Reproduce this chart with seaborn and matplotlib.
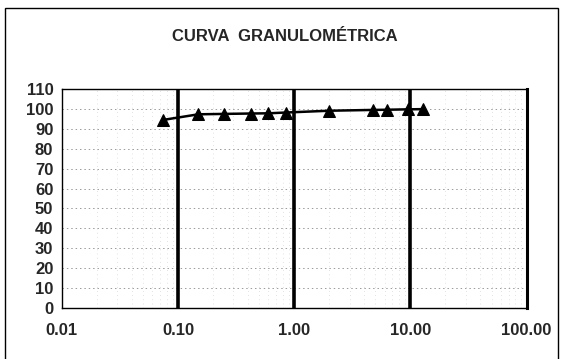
import matplotlib
matplotlib.use("Agg")
import matplotlib.pyplot as plt
from matplotlib.patches import Rectangle
from matplotlib.ticker import FixedLocator, FixedFormatter, LogLocator, NullFormatter
import seaborn as sns
import pandas as pd

# Sieve openings (mm) and cumulative percent passing
abertura_mm = [0.075, 0.15, 0.25, 0.425, 0.6, 0.85, 2.0, 4.75, 6.3, 9.5, 12.7]
pasa_pct = [94.6, 97.4, 97.6, 97.8, 97.9, 98.3, 99.2, 99.6, 99.7, 99.9, 100.0]

x_ticks = [0.01, 0.1, 1, 10, 100]
x_labels = ["0.01", "0.10", "1.00", "10.00", "100.00"]
y_ticks = list(range(0, 111, 10))

titulo = "CURVA  GRANULOMÉTRICA"

sns.set_style("white")
plt.rcParams["font.family"] = ["Liberation Sans", "DejaVu Sans"]
plt.rcParams["font.weight"] = "bold"

df = pd.DataFrame({"abertura": abertura_mm, "pasa": pasa_pct})

fig = plt.figure(figsize=(5.63, 3.59), dpi=100)
ax = fig.add_axes([0.1096, 0.1429, 0.8259, 0.6084])

sns.lineplot(data=df, x="abertura", y="pasa", ax=ax, color="black",
             linewidth=1.8, marker="^", markersize=8, markeredgecolor="black",
             markerfacecolor="black", zorder=5)

ax.set_xscale("log")
ax.set_xlim(0.01, 100)
ax.set_ylim(0, 110)
ax.xaxis.set_major_locator(FixedLocator(x_ticks))
ax.xaxis.set_major_formatter(FixedFormatter(x_labels))
ax.xaxis.set_minor_locator(LogLocator(base=10, subs=range(2, 10)))
ax.xaxis.set_minor_formatter(NullFormatter())
ax.set_yticks(y_ticks)
ax.set_xlabel("")
ax.set_ylabel("")

# Decade lines drawn heavy, percent lines faint and dotted
for xv in x_ticks[1:-1]:
    ax.axvline(xv, color="black", linewidth=2.6, zorder=3)
for yv in y_ticks[1:-1]:
    ax.axhline(yv, color="#9a9a9a", linewidth=0.7, linestyle=(0, (1.5, 3)), zorder=1)
ax.grid(which="minor", axis="x", color="#c8c8c8", linewidth=0.5,
        linestyle=(0, (1, 5)), zorder=1)

for side in ["left", "bottom", "top"]:
    ax.spines[side].set_visible(True)
    ax.spines[side].set_color("black")
    ax.spines[side].set_linewidth(1.0)
ax.spines["right"].set_visible(True)
ax.spines["right"].set_color("black")
ax.spines["right"].set_linewidth(2.2)

ax.tick_params(axis="both", which="major", direction="out", length=4,
               width=0.8, color="black", labelsize=12, pad=2)
ax.tick_params(axis="x", which="major", pad=7)
ax.tick_params(axis="x", which="minor", length=0)
for lbl in ax.get_xticklabels() + ax.get_yticklabels():
    lbl.set_fontweight("bold")

fig.text(0.506, 0.899, titulo, ha="center", va="center",
         fontsize=12, fontweight="bold")

# Outer chart frame
fig.add_artist(Rectangle((5 / 563, -0.05), 553 / 563, (359 - 8) / 359 + 0.05,
                         transform=fig.transFigure, fill=False,
                         edgecolor="black", linewidth=1.0))

fig.savefig("out.png", dpi=100)
